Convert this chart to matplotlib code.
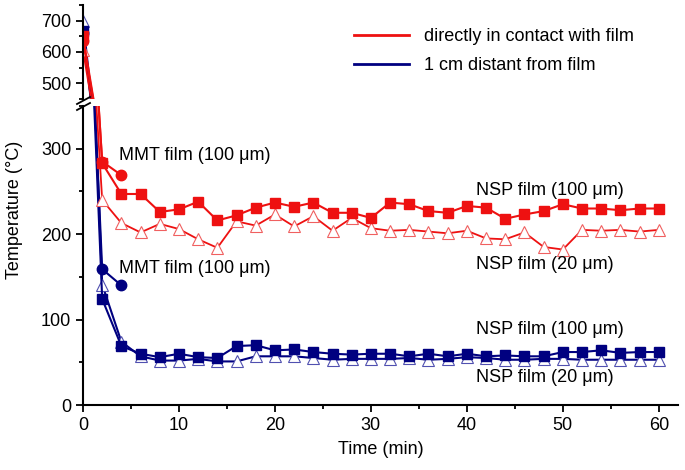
import matplotlib
matplotlib.use("Agg")
import matplotlib.pyplot as plt
from matplotlib.lines import Line2D
from matplotlib.ticker import MultipleLocator

plt.rcParams['font.family'] = ['Liberation Sans', 'DejaVu Sans']

# data (time in min, temperature in degC)
time = list(range(0, 61, 2))
red_nsp100 = [650, 283, 247, 247, 226, 229, 238, 216, 222, 231, 237, 232, 237, 225, 225, 219,
              237, 235, 227, 225, 233, 231, 218, 223, 227, 235, 230, 230, 228, 230, 230]
red_nsp20 = [605, 240, 213, 202, 212, 206, 194, 184, 215, 210, 223, 209, 221, 204, 219, 207,
             204, 205, 203, 201, 204, 195, 194, 202, 185, 182, 205, 204, 205, 203, 205]
blue_nsp100 = [668, 124, 69, 60, 56, 60, 56, 55, 69, 70, 64, 65, 62, 60, 59, 60,
               60, 57, 60, 57, 60, 57, 58, 57, 57, 62, 62, 64, 61, 62, 62]
blue_nsp20 = [700, 141, 74, 57, 52, 52, 54, 51, 51, 57, 57, 57, 55, 53, 54, 54,
              54, 55, 53, 54, 56, 55, 53, 53, 54, 54, 53, 53, 53, 53, 53]
mmt_time = [0, 2, 4]
red_mmt = [635, 285, 269]
blue_mmt = [660, 159, 140]

RED = '#ee1111'
BLUE = '#000080'
W, H = 685, 470

fig = plt.figure(figsize=(W / 100, H / 100), dpi=100)
ax_top = fig.add_axes([83 / W, 1 - 99 / H, (678 - 83) / W, 94 / H])
ax = fig.add_axes([83 / W, 1 - 405 / H, (678 - 83) / W, 299 / H])


def draw(a):
    a.plot(time, blue_nsp20, color=BLUE, lw=1.5, marker='^', ms=8, mfc='white', mec='#5050b0', mew=0.8)
    a.plot(time, blue_nsp100, color=BLUE, lw=1.5, marker='s', ms=6.5, mfc=BLUE, mec=BLUE)
    a.plot(mmt_time, blue_mmt, color=BLUE, lw=1.5, marker='o', ms=7.5, mfc=BLUE, mec=BLUE)
    a.plot(time, red_nsp20, color=RED, lw=1.3, marker='^', ms=8, mfc='white', mec='#f06060', mew=0.8)
    a.plot(time, red_nsp100, color=RED, lw=1.5, marker='s', ms=6.5, mfc=RED, mec=RED)
    a.plot(mmt_time, red_mmt, color=RED, lw=1.5, marker='o', ms=7.5, mfc=RED, mec=RED)


draw(ax_top)
draw(ax)

for a in (ax, ax_top):
    a.set_xlim(0, 62)
    a.spines['top'].set_visible(False)
    a.spines['right'].set_visible(False)
    a.spines['left'].set_linewidth(1.5)
    a.spines['bottom'].set_linewidth(1.5)
    a.tick_params(direction='out', which='major', length=5, width=1.3, labelsize=13)
    a.tick_params(direction='out', which='minor', length=3, width=1.3)

ax.set_ylim(0, 350)
ax.yaxis.set_major_locator(MultipleLocator(100))
ax.yaxis.set_minor_locator(MultipleLocator(50))
ax.xaxis.set_major_locator(MultipleLocator(10))
ax.xaxis.set_minor_locator(MultipleLocator(5))

ax_top.set_ylim(450, 750)
ax_top.set_yticks([500, 600, 700])
ax_top.yaxis.set_minor_locator(MultipleLocator(50))
ax_top.spines['bottom'].set_visible(False)
ax_top.set_xticks([])
ax_top.patch.set_alpha(0)

# axis break marks
for dy in (0, 6):
    fig.add_artist(Line2D([77 / W, 90 / W], [1 - (104 + dy) / H, 1 - (97 + dy) / H],
                          color='black', lw=1.3))

ax.set_xlabel('Time (min)', fontsize=13, labelpad=5)
fig.text(15 / W, 1 - 210 / H, 'Temperature (°C)', rotation=90, fontsize=13,
         ha='center', va='center')

# annotations
ax.text(3.8, 292, 'MMT film (100 μm)', fontsize=13, va='center')
ax.text(3.8, 160, 'MMT film (100 μm)', fontsize=13, va='center')
ax.text(41, 251, 'NSP film (100 μm)', fontsize=13, va='center')
ax.text(41, 164, 'NSP film (20 μm)', fontsize=13, va='center')
ax.text(41, 88, 'NSP film (100 μm)', fontsize=13, va='center')
ax.text(41, 32, 'NSP film (20 μm)', fontsize=13, va='center')

handles = [Line2D([], [], color=RED, lw=2), Line2D([], [], color=BLUE, lw=2)]
fig.legend(handles, ['directly in contact with film', '1 cm distant from film'],
           loc='upper left', bbox_to_anchor=(338 / W, 1 - 12 / H), frameon=False,
           fontsize=13, handlelength=3.05, handletextpad=0.8, labelspacing=0.65)

fig.savefig('out.png', dpi=100)
